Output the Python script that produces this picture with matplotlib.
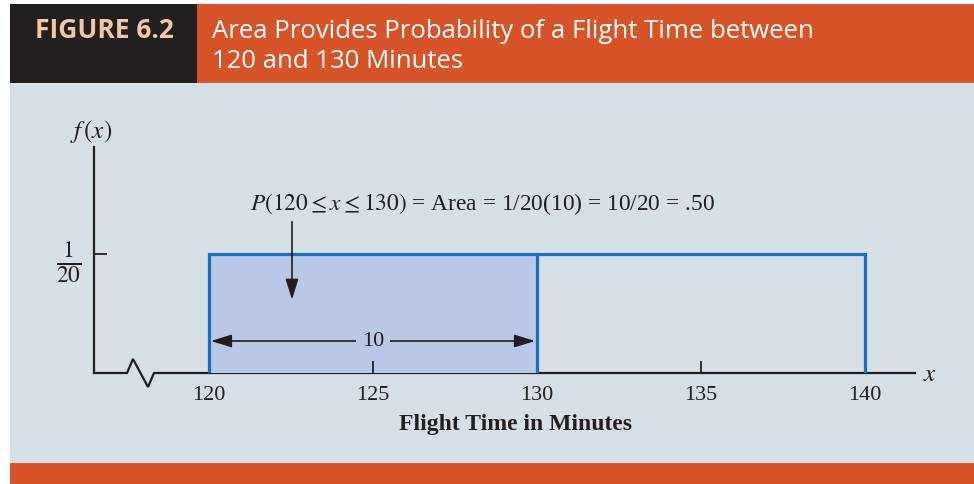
import matplotlib
matplotlib.use("Agg")
import matplotlib.pyplot as plt
from matplotlib.patches import Rectangle

plt.rcParams['mathtext.fontset'] = 'stix'

# ---- data ----
a_min = 120          # lower bound of uniform distribution
b_max = 140          # upper bound
shade_lo = 120       # shaded interval start
shade_hi = 130       # shaded interval end
density = 1 / 20     # f(x)
tick_values = [120, 125, 130, 135, 140]
tick_labels = ["120", "125", "130", "135", "140"]
width_label = "10"
prob_text = r"$P(120 \leq x \leq 130)$ = Area = 1/20(10) = 10/20 = .50"
x_title = "Flight Time in Minutes"
fig_label = "FIGURE 6.2"
fig_title_lines = ["Area Provides Probability of a Flight Time between",
                   "120 and 130 Minutes"]

# ---- colours ----
ORANGE = "#d65428"
DARK = "#231f20"
PANEL = "#d7dfe6"
PEACH = "#f2c6a6"
BLUE = "#1b6ebd"
FILL = "#b9c8e7"
INK = "#231f20"

W, H = 974, 484
fig = plt.figure(figsize=(W / 100, H / 100), dpi=100)

# background / header drawn in pixel space
bg = fig.add_axes([0, 0, 1, 1])
bg.set_xlim(0, W)
bg.set_ylim(H, 0)
bg.axis("off")
bg.add_patch(Rectangle((10, 4), 187, 79, color=DARK, lw=0))
bg.add_patch(Rectangle((197, 4), W - 197, 79, color=ORANGE, lw=0))
bg.add_patch(Rectangle((10, 83), W - 10, 380, color=PANEL, lw=0))
bg.add_patch(Rectangle((10, 463), W - 10, 21, color=ORANGE, lw=0))
bg.text(104, 31, fig_label, color=PEACH, fontsize=19, fontweight="bold",
        family="Open Sans", ha="center", va="center")
for i, line in enumerate(fig_title_lines):
    bg.text(212, 31 + 31 * i, line, color="white", fontsize=18.5,
            family="Open Sans", ha="left", va="center")

# x-axis with break (pixel space)
brk_x = [94, 127, 133, 148, 154, 915]
brk_y = [373, 373, 359, 387, 373, 373]
bg.plot(brk_x, brk_y, color=INK, lw=1.6, solid_joinstyle="miter", zorder=5)

# data axes
left_px, right_px, bot_px, top_px = 94, 915, 373, 147
ax = fig.add_axes([left_px / W, (H - bot_px) / H, (right_px - left_px) / W,
                   (bot_px - top_px) / H])
ax.patch.set_alpha(0)
ax.set_xlim(116.494, 141.524)
ax.set_ylim(0, 0.095)
for s in ["top", "right", "bottom"]:
    ax.spines[s].set_visible(False)
ax.spines["left"].set_color(INK)
ax.spines["left"].set_linewidth(1.6)

ax.set_xticks(tick_values)
ax.set_xticklabels(tick_labels, family="Liberation Serif", fontsize=16, color=INK)
ax.tick_params(axis="x", direction="in", length=9, width=1.3, color=INK, pad=9)
ax.set_yticks([density])
ax.set_yticklabels([r"$\frac{1}{20}$"], fontsize=24, color=INK)
ax.tick_params(axis="y", direction="in", length=9, width=1.3, color=INK, pad=9)

# shaded area and uniform density outline
ax.fill_between([shade_lo, shade_hi], 0, density, color=FILL, lw=0, zorder=1)
ax.plot([a_min, a_min, b_max, b_max], [0, density, density, 0], color=BLUE,
        lw=2.3, solid_joinstyle="miter", zorder=3)
ax.plot([shade_hi, shade_hi], [0, density], color=BLUE, lw=2.3, zorder=3)

# width arrow with label
ya = 0.01345
mid = (shade_lo + shade_hi) / 2
for end in (shade_lo + 0.06, shade_hi - 0.06):
    ax.annotate("", xy=(end, ya), xytext=(mid, ya),
                arrowprops=dict(arrowstyle="-|>,head_length=0.9,head_width=0.28",
                                color=INK, lw=1.2, mutation_scale=14,
                                shrinkA=0, shrinkB=0),
                zorder=4)
ax.text(mid, ya, width_label, family="Liberation Serif", fontsize=16, color=INK,
        ha="center", va="center", zorder=6,
        bbox=dict(boxstyle="square,pad=0.25", facecolor=FILL, edgecolor="none"))

# probability statement and arrow
ax.text(121.25, 0.0710, prob_text, family="Liberation Serif", fontsize=16.8,
        color=INK, ha="left", va="center")
ax.annotate("", xy=(122.53, 0.0308), xytext=(122.53, 0.0636),
            arrowprops=dict(arrowstyle="-|>,head_length=0.9,head_width=0.28",
                            color=INK, lw=1.2, mutation_scale=14, shrinkA=0, shrinkB=0),
            zorder=4)

# axis labels
ax.text(116.40, 0.1017, r"$f\,(x)$", fontsize=18, color=INK, ha="center",
        va="center", clip_on=False)
ax.text(141.98, -0.0005, r"$x$", fontsize=18, color=INK, ha="center",
        va="center", clip_on=False)
ax.text(129.33, -0.0215, x_title, family="Liberation Serif", fontsize=17,
        fontweight="bold", color=INK, ha="center", va="center", clip_on=False)

fig.savefig("out.png", dpi=100)
